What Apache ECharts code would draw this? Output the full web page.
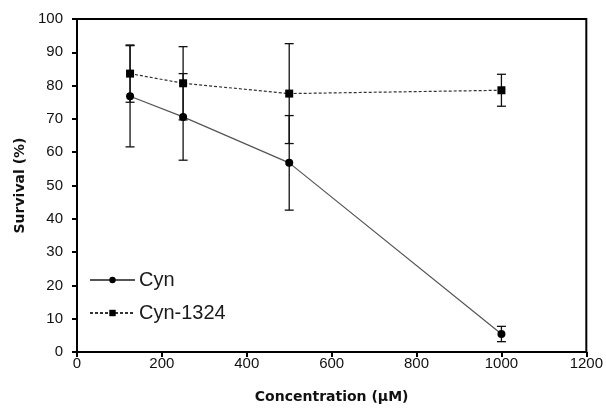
<!DOCTYPE html>
<html><head><meta charset="utf-8">
<script src="https://cdn.jsdelivr.net/npm/echarts@6/dist/echarts.min.js"></script>
<style>html,body{margin:0;padding:0;background:#fff}#c{width:606px;height:411px}</style>
</head><body><div id="c"></div>
<script>
var concentrations = [125, 250, 500, 1000];
var cynValues = [76.8, 70.6, 56.8, 5.4];
var cynErrors = [15.2, 13.0, 14.2, 2.3];
var cyn1324Values = [83.6, 80.7, 77.6, 78.6];
var cyn1324Errors = [8.6, 11.0, 15.0, 4.8];
var xTicks = [0, 200, 400, 600, 800, 1000, 1200];
var yTicks = [0, 10, 20, 30, 40, 50, 60, 70, 80, 90, 100];

function pairs(xs, ys){ return xs.map(function(x,i){return [x, ys[i]];}); }
function errData(xs, ys, es){ return xs.map(function(x,i){return [x, ys[i]-es[i], ys[i]+es[i]];}); }
function errRender(params, api){
  var x = api.value(0);
  var lo = api.coord([x, api.value(1)]);
  var hi = api.coord([x, api.value(2)]);
  var w = 4.5;
  var st = {stroke:'#111', lineWidth:1.3};
  return {type:'group', children:[
    {type:'line', shape:{x1:lo[0],y1:lo[1],x2:hi[0],y2:hi[1]}, style:st},
    {type:'line', shape:{x1:lo[0]-w,y1:lo[1],x2:lo[0]+w,y2:lo[1]}, style:st},
    {type:'line', shape:{x1:hi[0]-w,y1:hi[1],x2:hi[0]+w,y2:hi[1]}, style:st}
  ]};
}
var font = 'Liberation Sans, Arial, sans-serif';
var titleFont = 'DejaVu Sans, Verdana, sans-serif';
var chart = echarts.init(document.getElementById('c'), null, {renderer:'canvas'});
chart.setOption({
  animation:false,
  grid:{left:77, right:18, top:19, bottom:59, show:true, borderColor:'#000', borderWidth:2, backgroundColor:'transparent'},
  legend:{
    orient:'vertical', left:84, top:265, itemWidth:45, itemHeight:8, itemGap:13,
    data:['Cyn','Cyn-1324'],
    textStyle:{fontFamily:font, fontSize:20, color:'#1a1a1a', padding:[0,0,0,-1]}
  },
  xAxis:{
    type:'value', min:xTicks[0], max:xTicks[xTicks.length-1], interval:200,
    name:'Concentration (\u03bcM)', nameLocation:'middle', nameGap:38,
    nameTextStyle:{fontFamily:titleFont, fontSize:14, fontWeight:'bold', color:'#111'},
    axisLine:{show:true, lineStyle:{color:'#000', width:2}},
    axisTick:{show:true, inside:false, length:5, lineStyle:{color:'#000', width:2}},
    axisLabel:{fontFamily:font, fontSize:15, color:'#111', margin:4, formatter:function(v){return String(v);}},
    splitLine:{show:false}
  },
  yAxis:{
    type:'value', min:yTicks[0], max:yTicks[yTicks.length-1], interval:10,
    name:'Survival (%)', nameLocation:'middle', nameGap:50, nameRotate:90,
    nameTextStyle:{fontFamily:titleFont, fontSize:14, fontWeight:'bold', color:'#111'},
    axisLine:{show:true, lineStyle:{color:'#000', width:2}},
    axisTick:{show:true, inside:false, length:5, lineStyle:{color:'#000', width:2}},
    axisLabel:{fontFamily:font, fontSize:15, color:'#111', margin:14},
    splitLine:{show:false}
  },
  series:[
    {name:'Cyn', type:'line', data:pairs(concentrations, cynValues), symbol:'circle', symbolSize:8,
     lineStyle:{color:'#555', width:1.2, type:'solid'}, itemStyle:{color:'#000'}, z:3},
    {name:'Cyn-1324', type:'line', data:pairs(concentrations, cyn1324Values), symbol:'rect', symbolSize:8,
     lineStyle:{color:'#333', width:1.2, type:[3,2]}, itemStyle:{color:'#000'}, z:3},
    {type:'custom', renderItem:errRender, data:errData(concentrations, cynValues, cynErrors), z:2, silent:true},
    {type:'custom', renderItem:errRender, data:errData(concentrations, cyn1324Values, cyn1324Errors), z:2, silent:true}
  ]
});
</script></body></html>
